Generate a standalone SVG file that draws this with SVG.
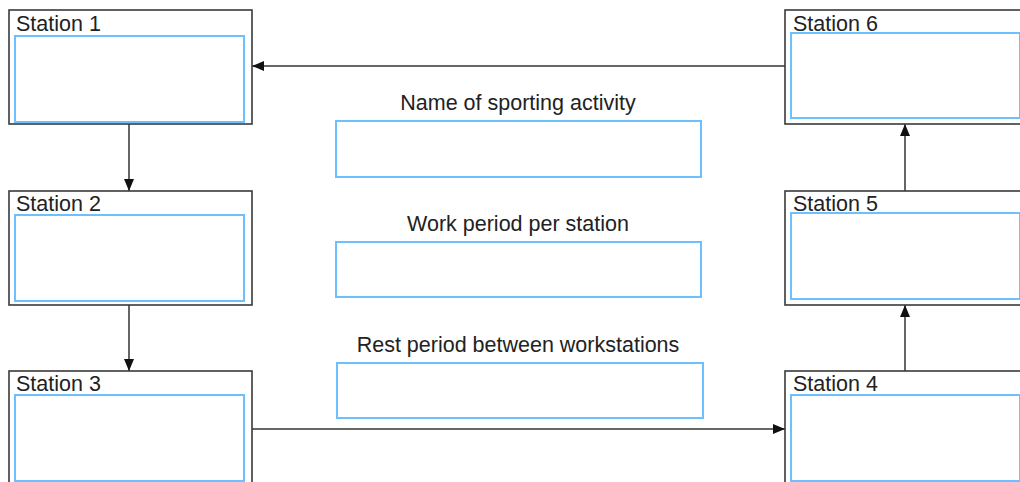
<svg xmlns="http://www.w3.org/2000/svg" width="1020" height="482" viewBox="0 0 1020 482">
<defs>
<style>
.outer{fill:#fff;stroke:#3a3a3a;stroke-width:1.6}
.inner{fill:#fff;stroke:#6cc0ff;stroke-width:2}
.lbl{font-family:"Liberation Sans",Arial,sans-serif;font-size:21.5px;fill:#222}
.ctr{text-anchor:middle}
.conn{stroke:#333;stroke-width:1.5;fill:none;marker-end:url(#arr)}
</style>
<marker id="arr" viewBox="0 0 12 10" refX="12" refY="5" markerWidth="12" markerHeight="10" markerUnits="userSpaceOnUse" orient="auto">
<path d="M0,0 L12,5 L0,10 Z" fill="#111"/>
</marker>
</defs>
<rect width="1020" height="482" fill="#fff"/>
<g id="connectors">
<line class="conn" x1="785" y1="66" x2="252" y2="66"/>
<line class="conn" x1="129" y1="124" x2="129" y2="191"/>
<line class="conn" x1="129" y1="305" x2="129" y2="371"/>
<line class="conn" x1="252" y1="429" x2="785" y2="429"/>
<line class="conn" x1="905" y1="371" x2="905" y2="305"/>
<line class="conn" x1="905" y1="191" x2="905" y2="124"/>
</g>
<g id="station1">
<rect class="outer" x="9" y="10" width="243" height="114"/>
<rect class="inner" x="15" y="36" width="229" height="86"/>
<text class="lbl" x="16" y="31">Station 1</text>
</g>
<g id="station2">
<rect class="outer" x="9" y="191" width="243" height="114"/>
<rect class="inner" x="15" y="215" width="229" height="86"/>
<text class="lbl" x="16" y="211">Station 2</text>
</g>
<g id="station3">
<rect class="outer" x="9" y="371" width="243" height="120"/>
<rect class="inner" x="15" y="395" width="229" height="86"/>
<text class="lbl" x="16" y="391">Station 3</text>
</g>
<g id="station4">
<rect class="outer" x="785" y="371" width="245" height="120"/>
<rect class="inner" x="791" y="395" width="229" height="86"/>
<text class="lbl" x="793" y="391">Station 4</text>
</g>
<g id="station5">
<rect class="outer" x="785" y="191" width="245" height="114"/>
<rect class="inner" x="791" y="213" width="229" height="86"/>
<text class="lbl" x="793" y="211">Station 5</text>
</g>
<g id="station6">
<rect class="outer" x="785" y="10" width="245" height="114"/>
<rect class="inner" x="791" y="33" width="229" height="85"/>
<text class="lbl" x="793" y="31">Station 6</text>
</g>
<g id="sporting">
<text class="lbl ctr" x="518" y="110">Name of sporting activity</text>
<rect class="inner" x="336" y="121" width="365" height="56"/>
</g>
<g id="work">
<text class="lbl ctr" x="518" y="231">Work period per station</text>
<rect class="inner" x="336" y="242" width="365" height="55"/>
</g>
<g id="rest">
<text class="lbl ctr" x="518" y="352">Rest period between workstations</text>
<rect class="inner" x="337" y="363" width="366" height="55"/>
</g>
</svg>
